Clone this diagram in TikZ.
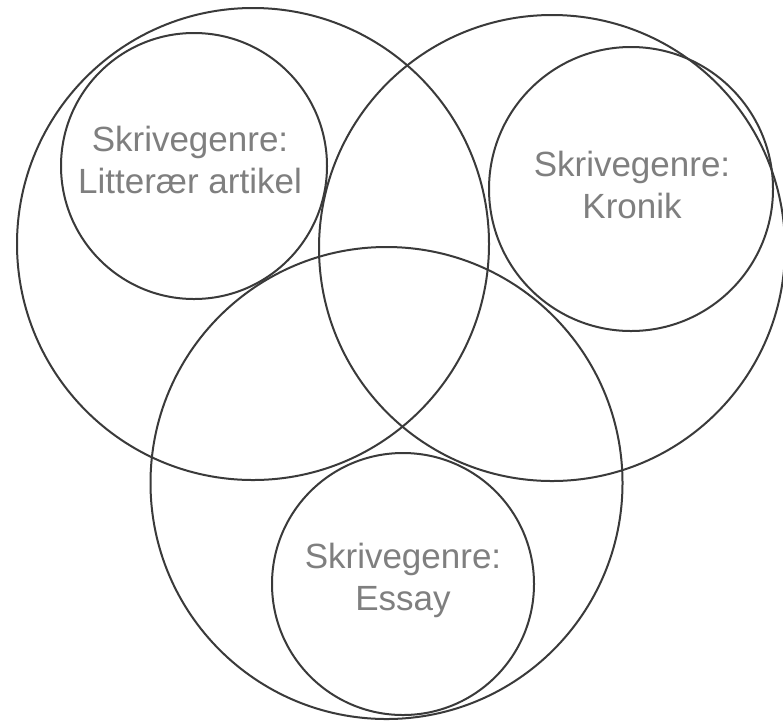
\documentclass[tikz,border=0pt]{standalone}
\usepackage{fontspec}
\setmainfont{Liberation Sans}
\definecolor{ringcol}{HTML}{3A3A3A}
\definecolor{txtcol}{HTML}{7F7F7F}
\begin{document}
\begin{tikzpicture}[x=1pt,y=-1pt,
  ring/.style={circle,draw=ringcol,line width=2pt,inner sep=0pt},
  lbl/.style={text=txtcol,align=center,font=\fontsize{35}{42}\selectfont,inner sep=0pt}]
\useasboundingbox[fill=white] (0,0) rectangle (783,721);
\node[ring,minimum size=472pt] (bigL) at (253,244) {};
\node[ring,minimum size=466pt] (bigR) at (552,248) {};
\node[ring,minimum size=472pt] (bigB) at (386.5,483) {};
\node[ring,minimum size=266pt] (smallL) at (194,166) {};
\node[ring,minimum size=284pt] (smallR) at (631,189) {};
\node[ring,minimum size=262pt] (smallB) at (403,584) {};
\node[lbl] (tL) at (190,160) {Skrivegenre:\\Litterær artikel};
\node[lbl] (tR) at (632,185) {Skrivegenre:\\Kronik};
\node[lbl] (tB) at (403,580) {Skrivegenre:\\Essay};
\end{tikzpicture}
\end{document}
